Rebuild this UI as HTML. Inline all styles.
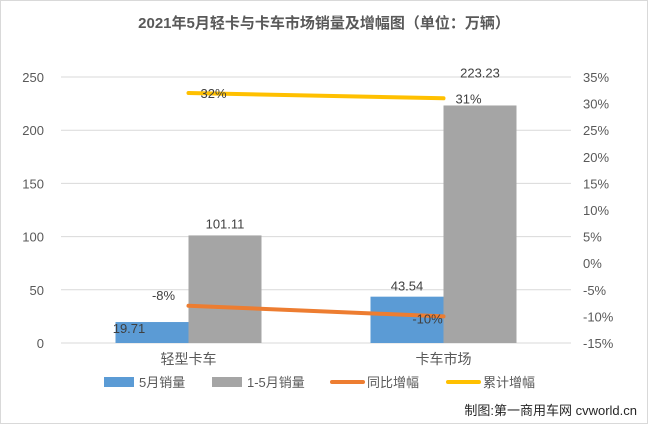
<!DOCTYPE html>
<html><head><meta charset="utf-8">
<style>
body{margin:0;background:#fff;}
svg text{font-family:"Liberation Sans","Noto Sans CJK SC",sans-serif;}
</style></head>
<body>
<svg id="chart" width="648" height="424" xmlns="http://www.w3.org/2000/svg">
<rect x="0.5" y="0.5" width="647" height="423" fill="#fff" stroke="#d9d9d9"/>
<text x="324" y="28" text-anchor="middle" font-size="15" font-weight="bold" fill="#595959">2021年5月轻卡与卡车市场销量及增幅图（单位：万辆）</text>
<g id="grid"></g>
<g id="bars"></g>
<g id="lines"></g>
<g id="axes"></g>
<g font-size="13" fill="#595959">
<rect x="104" y="377" width="30" height="10" fill="#5b9bd5"/>
<text x="139" y="387" fill="#595959">5月销量</text>
<rect x="212" y="377" width="30" height="10" fill="#a5a5a5"/>
<text x="247" y="387" fill="#595959">1-5月销量</text>
<line x1="332" y1="382" x2="363" y2="382" stroke="#ed7d31" stroke-width="4" stroke-linecap="round"/>
<text x="367" y="387" fill="#595959">同比增幅</text>
<line x1="448" y1="382" x2="479" y2="382" stroke="#ffc000" stroke-width="4" stroke-linecap="round"/>
<text x="483" y="387" fill="#595959">累计增幅</text>
</g>
<text x="637" y="415" text-anchor="end" font-size="13" fill="#262626">制图:第一商用车网 cvworld.cn</text>
</svg>
<script>
const categories=["轻型卡车","卡车市场"];
const monthly=[19.71,43.54];
const cumulative=[101.11,223.23];
const yoy=[-8,-10];
const cumGrowth=[32,31];
const leftTicks=[0,50,100,150,200,250];
const rightTicks=[-15,-10,-5,0,5,10,15,20,25,30,35];

const NS="http://www.w3.org/2000/svg";
const x0=61,x1=571,yTop=77,yBot=343;
const yL=v=>yBot-(v/250)*(yBot-yTop);
const yR=v=>yBot-((v+15)/50)*(yBot-yTop);
const band=(x1-x0)/categories.length;
const cx=i=>x0+band*(i+0.5);
const bw=73;
function mk(tag,attrs,parent,txt){const e=document.createElementNS(NS,tag);for(const k in attrs)e.setAttribute(k,attrs[k]);if(txt!==undefined)e.textContent=txt;document.getElementById(parent).appendChild(e);return e;}

leftTicks.forEach(t=>{
  const l=mk('line',{x1:x0,x2:x1,y1:yL(t),y2:yL(t),stroke:'#d9d9d9'},'grid');
  
  
  const tx=mk('text',{x:44,y:yL(t)+5,'text-anchor':'end','font-size':'13',fill:'#595959'},'axes',String(t));
  
  
});
rightTicks.forEach(t=>{
  const tx=mk('text',{x:583,y:yR(t)+5,'font-size':'13',fill:'#595959'},'axes',t+'%');
  
  
});
const mDx=[-23,0],mDy=[11,-6],cDy=[-7,-28];
categories.forEach((c,i)=>{
  const tx=mk('text',{x:cx(i),y:364,'text-anchor':'middle','font-size':'14',fill:'#595959'},'axes',c);
  
  
  const b1=mk('rect',{x:cx(i)-bw,y:yL(monthly[i]),width:bw,height:yBot-yL(monthly[i]),fill:'#5b9bd5'},'bars');
  
  
  const b2=mk('rect',{x:cx(i),y:yL(cumulative[i]),width:bw,height:yBot-yL(cumulative[i]),fill:'#a5a5a5'},'bars');
  
  
  const l1=mk('text',{x:cx(i)-bw/2+mDx[i],y:yL(monthly[i])+mDy[i],'text-anchor':'middle','font-size':'13',fill:'#404040'},'bars',monthly[i].toFixed(2));
  
  
  const l2=mk('text',{x:cx(i)+bw/2,y:yL(cumulative[i])+cDy[i],'text-anchor':'middle','font-size':'13',fill:'#404040'},'bars',cumulative[i].toFixed(2));
  
  
});
function line(vals,color,name,dxs,dys){
  const p=vals.map((v,i)=>cx(i)+','+yR(v)).join(' ');
  const pl=mk('polyline',{points:p,fill:'none',stroke:color,'stroke-width':4,'stroke-linecap':'round'},'lines');
  
  
  vals.forEach((v,i)=>{
    const tx=mk('text',{x:cx(i)+dxs[i],y:yR(v)+dys[i],'text-anchor':'middle','font-size':'13',fill:'#404040'},'lines',v+'%');
    
    
  });
}
line(yoy,'#ed7d31','yoy-line',[-25,-16],[-6,7]);
line(cumGrowth,'#ffc000','cum-growth-line',[25,25],[5,5]);
</script>
</body></html>
